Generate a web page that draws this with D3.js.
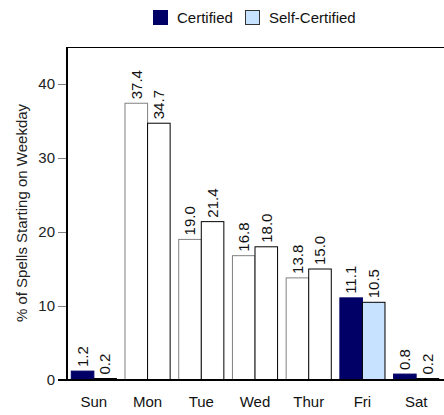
<!DOCTYPE html>
<html>
<head>
<meta charset="utf-8">
<script src="https://cdn.jsdelivr.net/npm/d3@7"></script>
<style>
  body { margin: 0; background: #fff; }
  text { font-family: "Liberation Sans", Arial, sans-serif; }
</style>
</head>
<body>
<svg id="chart"></svg>
<script>
// chart data
const days = ["Sun", "Mon", "Tue", "Wed", "Thur", "Fri", "Sat"];
const certified = [1.2, 37.4, 19.0, 16.8, 13.8, 11.1, 0.8];
const selfCertified = [0.2, 34.7, 21.4, 18.0, 15.0, 10.5, 0.2];
const colouredDays = ["Sun", "Fri", "Sat"];
const yTicks = [0, 10, 20, 30, 40];
const seriesNames = ["Certified", "Self-Certified"];

const width = 444;
const height = 415;
const fontSize = 15;
const navy = "#000066";
const lightBlue = "#c6e2ff";

const svg = d3.select("#chart").attr("width", width).attr("height", height);

const x = d3.scaleBand()
    .domain(days)
    .range([67, 443])
    .paddingInner(0.16)
    .paddingOuter(0.08);

const y = d3.scaleLinear().domain([0, 45]).range([380, 47]);

// top frame line
svg.append("line")
    .attr("x1", 67).attr("x2", width)
    .attr("y1", 47.5).attr("y2", 47.5)
    .attr("stroke", "#000");

// bars
const bars = days.map((d, i) => ({ day: d, cert: certified[i], self: selfCertified[i] }));
const half = x.bandwidth() / 2;

const groups = svg.selectAll(".day")
    .data(bars)
    .enter().append("g")
    .attr("class", "day");

groups.append("rect")
    .attr("x", d => x(d.day))
    .attr("y", d => y(d.cert))
    .attr("width", half)
    .attr("height", d => y(0) - y(d.cert))
    .attr("fill", d => colouredDays.includes(d.day) ? navy : "#fff")
    .attr("stroke", d => colouredDays.includes(d.day) ? navy : "#808080");

groups.append("rect")
    .attr("x", d => x(d.day) + half)
    .attr("y", d => y(d.self))
    .attr("width", half)
    .attr("height", d => y(0) - y(d.self))
    .attr("fill", d => colouredDays.includes(d.day) ? lightBlue : "#fff")
    .attr("stroke", "#000");

// value labels, rotated
function addLabels(key, offset) {
    groups.append("text")
        .attr("transform", d => `translate(${x(d.day) + offset + half / 2},${y(d[key]) - 4}) rotate(-90)`)
        .attr("dy", "0.35em")
        .attr("font-size", fontSize)
        .attr("fill", "#111")
        .text(d => d[key].toFixed(1));
}
addLabels("cert", 0);
addLabels("self", half);

// y axis
const yAxis = svg.append("g")
    .attr("transform", "translate(67,0)")
    .call(d3.axisLeft(y).tickValues(yTicks).tickSize(9).tickPadding(3));
yAxis.select(".domain").remove();
yAxis.selectAll(".tick line").attr("stroke", "#808080");
yAxis.selectAll(".tick text").attr("font-size", fontSize).attr("fill", "#222")
    .style("font-family", "Liberation Sans, Arial, sans-serif");

svg.append("line")
    .attr("x1", 67).attr("x2", 67)
    .attr("y1", 47).attr("y2", 381)
    .attr("stroke", "#000").attr("stroke-width", 2);

// x axis
const xAxis = svg.append("g")
    .attr("transform", "translate(0,380)")
    .call(d3.axisBottom(x).tickSize(0).tickPadding(16));
xAxis.select(".domain").remove();
xAxis.selectAll(".tick text").attr("font-size", fontSize).attr("fill", "#111")
    .style("font-family", "Liberation Sans, Arial, sans-serif");

svg.append("line")
    .attr("x1", 58).attr("x2", width)
    .attr("y1", 380).attr("y2", 380)
    .attr("stroke", "#000").attr("stroke-width", 2);

// y axis title
svg.append("text")
    .attr("transform", "translate(27,213) rotate(-90)")
    .attr("text-anchor", "middle")
    .attr("font-size", fontSize)
    .attr("fill", "#222")
    .text("% of Spells Starting on Weekday");

// legend
const legend = svg.append("g").attr("transform", "translate(153,10)");
const legendX = [0, 92];
seriesNames.forEach((name, i) => {
    legend.append("rect")
        .attr("x", legendX[i] + 0.5).attr("y", 0.5)
        .attr("width", 14).attr("height", 14)
        .attr("fill", i === 0 ? navy : lightBlue)
        .attr("stroke", i === 0 ? navy : "#333");
    legend.append("text")
        .attr("x", legendX[i] + 24).attr("y", 13)
        .attr("font-size", fontSize)
        .attr("fill", "#111")
        .text(name);
});
</script>
</body>
</html>
